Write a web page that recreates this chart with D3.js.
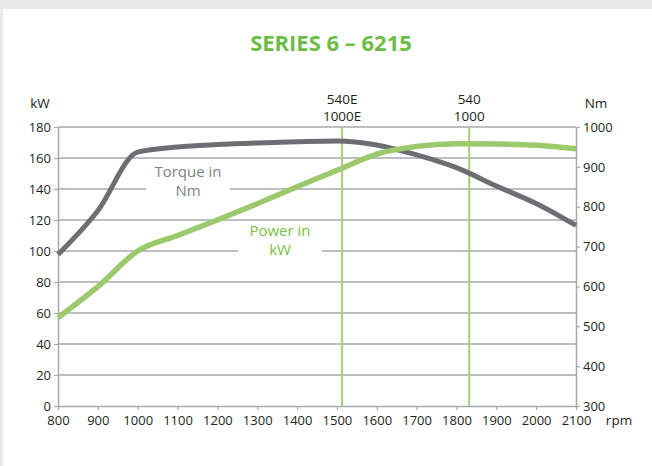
<!DOCTYPE html>
<html>
<head>
<meta charset="utf-8">
<script src="https://cdn.jsdelivr.net/npm/d3@7"></script>
<style>
  html, body { margin: 0; padding: 0; background: #e8e8e8; }
  svg { display: block; font-family: "Open Sans", "Noto Sans", sans-serif; }
</style>
</head>
<body>
<div id="chart"></div>
<script>
// rpm points the curves were read at
const rpm = [800, 900, 1000, 1100, 1200, 1300, 1400, 1500, 1600, 1700, 1800, 1900, 2000, 2100];
// power in kW (left axis)
const power = [57, 77, 100, 110, 120, 130.5, 141.5, 152, 162.5, 167.5, 169.2, 169, 168.3, 166];
// torque in Nm (right axis)
const torque = [680, 790, 937, 950, 956, 960, 963, 965, 955, 930, 898, 852, 808, 753];
const xTicks = d3.range(800, 2101, 100);
const kwTicks = d3.range(0, 181, 20);
const nmTicks = d3.range(300, 1001, 100);
// PTO speed markers
const markers = [
  {rpm: 1513, lines: ["540E", "1000E"]},
  {rpm: 1832, lines: ["540", "1000"]}
];

const width = 652, height = 466;
const margin = {top: 127, right: 76, bottom: 60, left: 58};

const svg = d3.select("#chart").append("svg")
  .attr("width", width)
  .attr("height", height);

// white panel
svg.append("rect")
  .attr("x", 3).attr("y", 9)
  .attr("width", width - 3).attr("height", height - 9)
  .attr("fill", "#fff");

const x = d3.scaleLinear().domain([800, 2100]).range([margin.left, width - margin.right]);
const yKw = d3.scaleLinear().domain([0, 180]).range([height - margin.bottom, margin.top]);
const yNm = d3.scaleLinear().domain([300, 1000]).range([height - margin.bottom, margin.top]);

const gridColor = "#a7a9ac";
const textColor = "#231f20";

svg.append("text")
  .attr("x", 331).attr("y", 51)
  .attr("text-anchor", "middle")
  .attr("fill", "#6cbd45")
  .attr("font-size", 22)
  .attr("font-weight", "bold")
  .text("SERIES 6 – 6215");

// horizontal grid
svg.append("g")
  .selectAll("line")
  .data(kwTicks.slice(1))
  .enter().append("line")
  .attr("x1", x(800)).attr("x2", x(2100))
  .attr("y1", d => yKw(d)).attr("y2", d => yKw(d))
  .attr("stroke", gridColor)
  .attr("stroke-width", 1.5);

// axes
function styleAxis(g) {
  g.attr("font-family", null);
  g.select(".domain").attr("stroke", gridColor).attr("stroke-width", 1.5);
  g.selectAll(".tick line").attr("stroke", gridColor).attr("stroke-width", 1.2);
  g.selectAll(".tick text").attr("fill", textColor).attr("font-size", 13);
}

svg.append("g")
  .attr("transform", `translate(${x(800)},0)`)
  .call(d3.axisLeft(yKw).tickValues(kwTicks).tickFormat(d => d).tickSize(4).tickSizeOuter(0).tickPadding(3))
  .call(styleAxis);

svg.append("g")
  .attr("transform", `translate(${x(2100)},0)`)
  .call(d3.axisRight(yNm).tickValues(nmTicks).tickFormat(d => d).tickSize(4).tickSizeOuter(0).tickPadding(3))
  .call(styleAxis);

svg.append("g")
  .attr("transform", `translate(0,${yKw(0)})`)
  .call(d3.axisBottom(x).tickValues(xTicks).tickFormat(d => d).tickSize(4).tickSizeOuter(0).tickPadding(6))
  .call(styleAxis);

// unit labels
svg.append("text").attr("x", 40).attr("y", 108).attr("text-anchor", "middle")
  .attr("fill", textColor).attr("font-size", 13.5).text("kW");
svg.append("text").attr("x", 596).attr("y", 108).attr("text-anchor", "middle")
  .attr("fill", textColor).attr("font-size", 13.5).text("Nm");
svg.append("text").attr("x", 619).attr("y", 425).attr("text-anchor", "middle")
  .attr("fill", textColor).attr("font-size", 13.5).text("rpm");

// PTO markers
const mk = svg.append("g").selectAll("g").data(markers).enter().append("g");
mk.append("line")
  .attr("x1", d => x(d.rpm)).attr("x2", d => x(d.rpm))
  .attr("y1", yKw(180)).attr("y2", yKw(0))
  .attr("stroke", "#a5cd7a").attr("stroke-width", 2);
mk.each(function(d) {
  const t = d3.select(this).append("text")
    .attr("text-anchor", "middle")
    .attr("fill", textColor)
    .attr("font-size", 13.5);
  d.lines.forEach((s, i) => {
    t.append("tspan").attr("x", x(d.rpm)).attr("y", 104 + i * 17).text(s);
  });
});

// curve labels with white backing to break the grid
function curveLabel(cx, cy, lines, color, w) {
  svg.append("rect")
    .attr("x", cx - w / 2).attr("y", cy - 15)
    .attr("width", w).attr("height", 40)
    .attr("fill", "#fff");
  const t = svg.append("text").attr("text-anchor", "middle")
    .attr("fill", color).attr("font-size", 15);
  lines.forEach((s, i) => {
    t.append("tspan").attr("x", cx).attr("y", cy + i * 19).text(s);
  });
}
curveLabel(188, 177, ["Torque in", "Nm"], "#808285", 84);
curveLabel(280, 236, ["Power in", "kW"], "#7ac143", 84);

// curves
const torqueLine = d3.line()
  .x((d, i) => x(rpm[i]))
  .y(d => yNm(d))
  .curve(d3.curveMonotoneX);
const powerLine = d3.line()
  .x((d, i) => x(rpm[i]))
  .y(d => yKw(d))
  .curve(d3.curveMonotoneX);

svg.append("path")
  .datum(torque)
  .attr("d", torqueLine)
  .attr("fill", "none")
  .attr("stroke", "#6d6e71")
  .attr("stroke-width", 5);

svg.append("path")
  .datum(power)
  .attr("d", powerLine)
  .attr("fill", "none")
  .attr("stroke", "#9cc96b")
  .attr("stroke-width", 5.5);
</script>
</body>
</html>
